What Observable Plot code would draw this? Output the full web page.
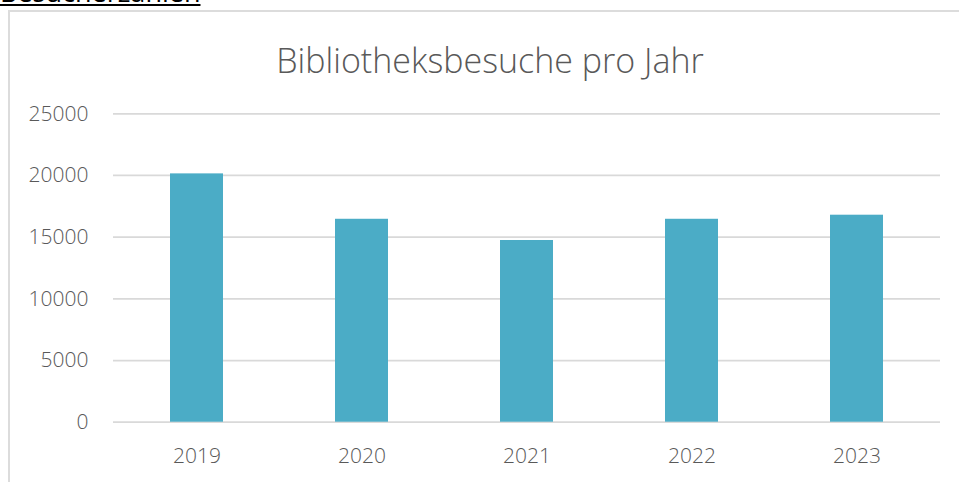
<!DOCTYPE html>
<html>
<head>
<meta charset="utf-8">
<script src="https://cdn.jsdelivr.net/npm/d3@7"></script>
<script src="https://cdn.jsdelivr.net/npm/@observablehq/plot@0.6"></script>
<style>
  html, body { margin: 0; padding: 0; background: #fff; overflow: hidden; }
  #wrap { position: relative; width: 959px; height: 482px; overflow: hidden; font-family: "Open Sans", sans-serif; }
  #heading { position: absolute; left: 0; top: -21.5px; font-size: 27px; line-height: 26px; color: #000; text-decoration: underline; text-decoration-thickness: 2px; text-underline-offset: 2px; white-space: nowrap; font-family: "Open Sans", sans-serif; }
  #frame { position: absolute; left: 8px; top: 10px; width: 960px; height: 480px; border-left: 2px solid #dcdcdc; border-top: 2px solid #dcdcdc; }
  #title { position: absolute; left: 20px; width: 940px; top: 40px; text-align: center; font-size: 34px; line-height: 40px; font-weight: 300; color: #595959; }
  #chart { position: absolute; left: 0; top: 90px; }
</style>
</head>
<body>
<div id="wrap">
  <div id="heading">Besucherzahlen</div>
  <div id="frame"></div>
  <div id="title">Bibliotheksbesuche pro Jahr</div>
  <div id="chart"></div>
</div>
<script>
const years = ["2019", "2020", "2021", "2022", "2023"];
const visits = [20130, 16450, 14730, 16450, 16780];
const yTicks = [0, 5000, 10000, 15000, 20000, 25000];

const data = years.map((y, i) => ({year: y, value: visits[i]}));

const plot = Plot.plot({
  width: 959,
  height: 392,
  marginTop: 23.3,
  marginBottom: 60.3,
  marginLeft: 113,
  marginRight: 19,
  style: { fontFamily: "'Open Sans', sans-serif", fontSize: "21px", color: "#595959", background: "transparent" },
  x: { domain: years, paddingInner: 0.68, paddingOuter: 0.34, label: null },
  y: { domain: [0, 25000], label: null },
  marks: [
    Plot.ruleY(yTicks, { stroke: "#d9d9d9", strokeWidth: 1.75 }),
    Plot.barY(data, { x: "year", y: "value", fill: "#4bacc6" }),
    Plot.axisY({ ticks: yTicks, tickSize: 0, tickPadding: 25, tickFormat: d => String(d), fill: "#595959", fontWeight: 300 }),
    Plot.axisX({ tickSize: 0, tickPadding: 26, fill: "#595959", fontWeight: 300 })
  ]
});
document.getElementById("chart").appendChild(plot);
</script>
</body>
</html>
